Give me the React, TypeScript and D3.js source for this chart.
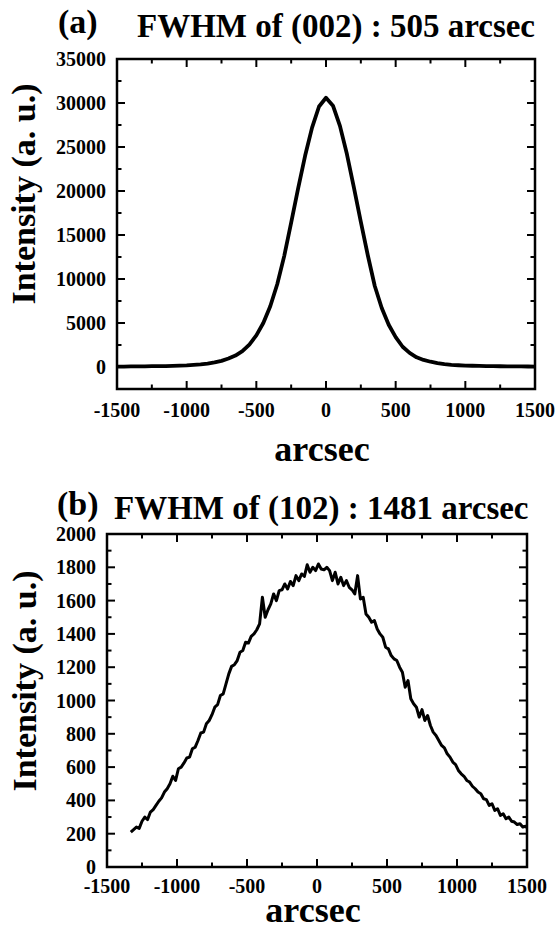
import React from 'react';
import * as d3 from 'd3';

// ---------- data ----------
const X_TICKS = [-1500, -1000, -500, 0, 500, 1000, 1500];
const X_MINOR = [-1250, -750, -250, 250, 750, 1250];

// Panel (a): (002) rocking curve, sampled every 50 arcsec from -1500
const A_X_START = -1500;
const A_X_STEP = 50;
const A_VALUES = [
  50, 50, 60, 70, 80, 90, 100, 110, 130, 160,
  190, 240, 300, 390, 520, 700, 960, 1300, 1800, 2550,
  3600, 5000, 6900, 9400, 12600, 16400, 20300, 24000, 27200, 29600,
  30600,
  29700, 27400, 24200, 20400, 16500, 12700, 9200, 6700, 4800, 3400,
  2300, 1600, 1100, 800, 600, 450, 330, 250, 200, 160,
  140, 120, 105, 95, 85, 75, 65, 60, 55, 50,
];
const A_Y_TICKS = [0, 5000, 10000, 15000, 20000, 25000, 30000, 35000];
const A_Y_MINOR = [-2500, 2500, 7500, 12500, 17500, 22500, 27500, 32500];

// Panel (b): (102) rocking curve, sampled every 20 arcsec from -1330
const B_X_START = -1330;
const B_X_STEP = 20;
const B_VALUES = [
  210, 225, 240, 232, 275, 300, 285, 330, 345, 370,
  395, 415, 450, 470, 500, 545, 520, 590, 600, 625,
  655, 660, 710, 720, 760, 805, 810, 860, 880, 915,
  960, 975, 1030, 1040, 1100, 1160, 1205, 1215, 1240, 1290,
  1300, 1350, 1345, 1385, 1400, 1425, 1460, 1620, 1500, 1545,
  1580, 1640, 1600, 1660, 1665, 1700, 1670, 1715, 1690, 1750,
  1720, 1760, 1745, 1815, 1770, 1800, 1780, 1820, 1790, 1785,
  1800, 1780, 1720, 1770, 1700, 1740, 1690, 1720, 1680, 1665,
  1640, 1750, 1610, 1620, 1520, 1500, 1470, 1480, 1430, 1400,
  1380, 1320, 1310, 1270, 1250, 1240, 1200, 1170, 1080, 1120,
  1010, 980, 960, 900, 945, 880, 910, 850, 810, 790,
  760, 730, 715, 680, 660, 630, 615, 580, 560, 545,
  520, 510, 485, 470, 450, 440, 410, 405, 370, 380,
  340, 350, 310, 320, 290, 300, 275, 270, 255, 260,
  240, 245,
];
const B_END_X = 1500;
const B_END_VALUE = 235;
const B_Y_TICKS = [0, 200, 400, 600, 800, 1000, 1200, 1400, 1600, 1800, 2000];
const B_Y_MINOR = [100, 300, 500, 700, 900, 1100, 1300, 1500, 1700, 1900];

const FONT = 'Liberation Serif';

type Pt = [number, number];

interface PanelProps {
  left: number; right: number; top: number; bottom: number;
  yDomain: [number, number];
  yTicks: number[]; yMinor: number[];
  data: Pt[];
  lineWidth: number;
  tag: string; tagX: number; tagY: number;
  title: string; titleX: number; titleY: number;
  xLabelY: number; xTitleY: number;
  yTitleX: number; yTitleY: number;
}

const txt = (size: number): React.CSSProperties => ({ fontFamily: FONT, fontWeight: 'bold', fontSize: size });

function Panel(p: PanelProps) {
  const x = d3.scaleLinear().domain([-1500, 1500]).range([p.left, p.right]);
  const y = d3.scaleLinear().domain(p.yDomain).range([p.bottom, p.top]);
  const line = d3.line<Pt>().x(d => x(d[0])).y(d => y(d[1]));
  const MAJ = 8, MIN = 4.5;
  const tk = { stroke: '#000', strokeWidth: 2 };
  return (
    <g>
      <path d={line(p.data) || ''} fill="none" stroke="#000" strokeWidth={p.lineWidth} strokeLinejoin="round" />
      {X_TICKS.map(v => (
        <g key={'xm' + v}>
          <line x1={x(v)} x2={x(v)} y1={p.bottom} y2={p.bottom - MAJ} {...tk} />
          <line x1={x(v)} x2={x(v)} y1={p.top} y2={p.top + MAJ} {...tk} />
          <text x={x(v)} y={p.xLabelY} textAnchor="middle" style={txt(20)}>{String(v)}</text>
        </g>
      ))}
      {X_MINOR.map(v => (
        <g key={'xn' + v}>
          <line x1={x(v)} x2={x(v)} y1={p.bottom} y2={p.bottom - MIN} {...tk} />
          <line x1={x(v)} x2={x(v)} y1={p.top} y2={p.top + MIN} {...tk} />
        </g>
      ))}
      {p.yTicks.map(v => (
        <g key={'ym' + v}>
          <line x1={p.left} x2={p.left + MAJ} y1={y(v)} y2={y(v)} {...tk} />
          <line x1={p.right} x2={p.right - MAJ} y1={y(v)} y2={y(v)} {...tk} />
          <text x={p.left - 11} y={y(v) + 7} textAnchor="end" style={txt(20)}>{String(v)}</text>
        </g>
      ))}
      {p.yMinor.map(v => (
        <g key={'yn' + v}>
          <line x1={p.left} x2={p.left + MIN} y1={y(v)} y2={y(v)} {...tk} />
          <line x1={p.right} x2={p.right - MIN} y1={y(v)} y2={y(v)} {...tk} />
        </g>
      ))}
      <rect x={p.left} y={p.top} width={p.right - p.left} height={p.bottom - p.top} fill="none" stroke="#000" strokeWidth={2.5} />
      <text x={p.tagX} y={p.tagY} style={txt(34)}>{p.tag}</text>
      <text x={p.titleX} y={p.titleY} style={txt(33)}>{p.title}</text>
      <text x={(p.left + p.right) / 2 - 4} y={p.xTitleY} textAnchor="middle" style={txt(36)}>arcsec</text>
      <text transform={`translate(${p.yTitleX},${p.yTitleY}) rotate(-90)`} textAnchor="middle" style={txt(34)}>Intensity (a. u.)</text>
    </g>
  );
}

export default function App() {
  const aData: Pt[] = A_VALUES.map((v, i) => [A_X_START + i * A_X_STEP, v]);
  const bData: Pt[] = B_VALUES.map((v, i) => [B_X_START + i * B_X_STEP, v] as Pt);
  bData.push([B_END_X, B_END_VALUE]);
  return (
    <svg width={558} height={930} style={{ position: 'absolute', left: 0, top: 0, background: '#fff' }}>
      <rect width={558} height={930} fill="#fff" />
      <Panel left={117} right={535} top={59} bottom={389} yDomain={[-2500, 35000]}
        yTicks={A_Y_TICKS} yMinor={A_Y_MINOR} data={aData} lineWidth={3.8}
        tag="(a)" tagX={58} tagY={33} title="FWHM of (002) : 505 arcsec" titleX={137} titleY={37}
        xLabelY={417} xTitleY={461} yTitleX={35} yTitleY={194} />
      <Panel left={107} right={527} top={534} bottom={867} yDomain={[0, 2000]}
        yTicks={B_Y_TICKS} yMinor={B_Y_MINOR} data={bData} lineWidth={3}
        tag="(b)" tagX={57} tagY={515} title="FWHM of (102) : 1481 arcsec" titleX={114} titleY={519}
        xLabelY={893} xTitleY={922} yTitleX={36} yTitleY={681} />
    </svg>
  );
}
